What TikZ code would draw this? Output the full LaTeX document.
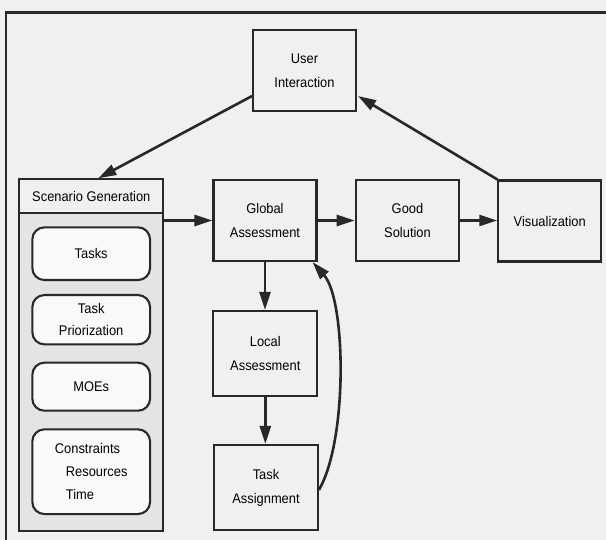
\documentclass[tikz,border=0pt]{standalone}
\usepackage{fontspec}
\setmainfont{Liberation Sans}[FakeStretch=0.92]
\usetikzlibrary{arrows.meta,calc}
\definecolor{bg}{RGB}{240,240,240}
\definecolor{dotbg}{RGB}{228,228,228}
\definecolor{ink}{RGB}{40,40,40}
\tikzset{
  box/.style={draw=ink, line width=2.1pt, fill=bg, inner sep=0pt, align=center,
    font=\fontsize{14}{24}\selectfont},
  rbox/.style={draw=ink, line width=2.1pt, fill=white!60!bg, rounded corners=12pt, inner sep=0pt,
    minimum width=117.7pt, align=center, font=\fontsize{14}{22}\selectfont},
  arr/.style={draw=ink, line width=2.6pt, -{Triangle[length=18pt,width=11pt]}},
}
\begin{document}
\begin{tikzpicture}[x=1pt,y=-1pt]
\useasboundingbox (0,0) rectangle (606,540);
\fill[bg] (0,0) rectangle (606,540);
% outer frame
\draw[ink, line width=2.2pt] (6,540) -- (6,12.5) -- (606,12.5);

% scenario generation
\node[box, fill=dotbg, minimum width=144pt, minimum height=351.4pt] (scen) at (91.3,355) {};
\node[box, fill=bg, minimum width=144pt, minimum height=33.4pt, anchor=north] (scenhead) at (scen.north) {Scenario Generation};
\node[rbox, minimum height=52.7pt] (tasks) at (91.2,253.7) {Tasks};
\node[rbox, minimum height=49.3pt] (prio) at (91.2,319.7) {Task\\Priorization};
\node[rbox, minimum height=48pt] (moes) at (91.2,386.7) {MOEs};
\node[rbox, minimum height=84.7pt, align=left, font=\fontsize{14}{23}\selectfont] (cons) at (91.2,471.7) {Constraints\\\hspace*{11pt}Resources\\\hspace*{11pt}Time};

% main boxes
\node[box, minimum width=103pt, minimum height=81pt] (user) at (304.5,70.5) {User\\Interaction};
\node[box, minimum width=103pt, minimum height=81pt] (global) at (265,220.5) {Global\\Assessment};
\node[box, minimum width=103.6pt, minimum height=81pt] (good) at (407.5,220.5) {Good\\Solution};
\node[box, minimum width=102.7pt, minimum height=81pt] (vis) at (549.7,221) {Visualization};
\node[box, minimum width=104pt, minimum height=84.7pt] (local) at (265.3,353.3) {Local\\Assessment};
\node[box, minimum width=103.7pt, minimum height=85pt] (task) at (266,487.5) {Task\\Assignment};

% connectors
\draw[arr] ($(user.south west)+(0,-16)$) -- ($(scen.north)+(7,0)$);
\draw[arr] (vis.north west) -- ($(user.south east)+(1,-16)$);
\draw[arr] (scen.east |- global.west) -- (global.west);
\draw[arr] (global.east) -- (good.west);
\draw[arr] (good.east) -- (vis.west |- good.east);
\draw[arr] (global.south) -- (global.south |- local.north);
\draw[arr] (local.south) -- (local.south |- task.north);
\draw[arr] ($(task.east)+(0,2.5)$) .. controls (348,440) and (346,300) .. ($(global.south east)+(-5,0)$);
\end{tikzpicture}
\end{document}
